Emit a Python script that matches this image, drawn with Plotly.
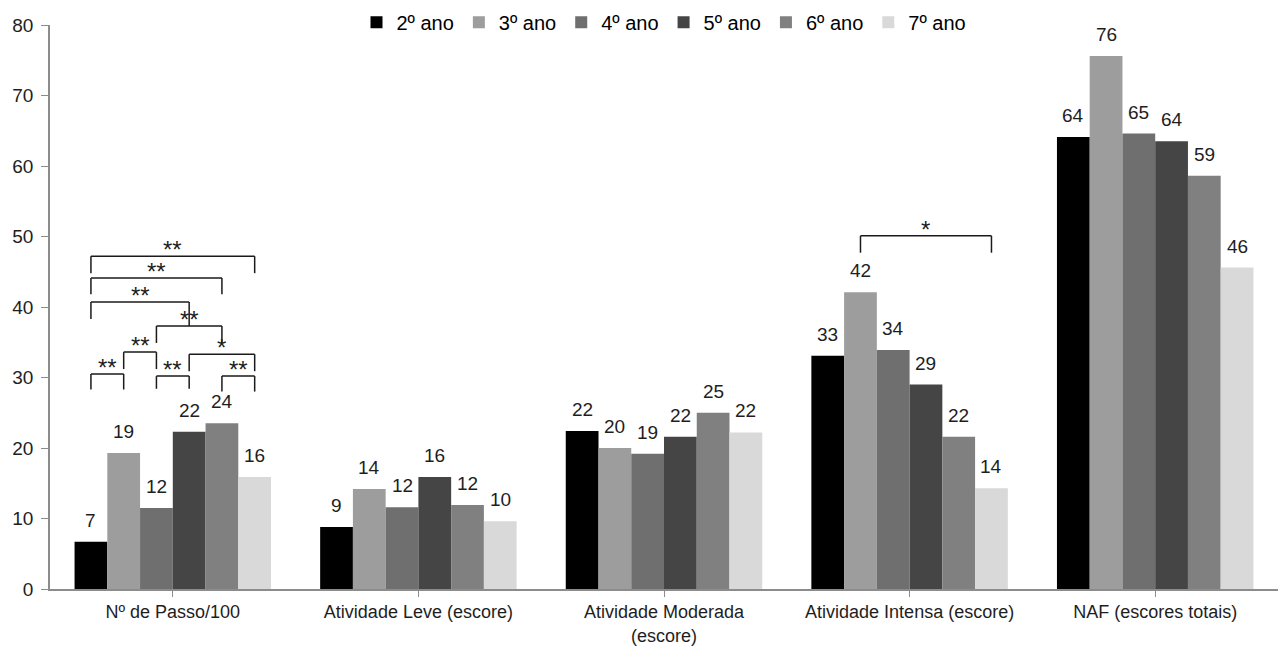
import plotly.graph_objects as go

categories = ["Nº de Passo/100", "Atividade Leve (escore)", "Atividade Moderada<br>(escore)",
              "Atividade Intensa (escore)", "NAF (escores totais)"]
series_names = ["2º ano", "3º ano", "4º ano", "5º ano", "6º ano", "7º ano"]

ano2 = [6.7, 8.8, 22.4, 33.1, 64.1]
ano3 = [19.3, 14.2, 20.0, 42.1, 75.6]
ano4 = [11.5, 11.6, 19.2, 33.9, 64.6]
ano5 = [22.3, 15.9, 21.6, 29.0, 63.5]
ano6 = [23.5, 11.9, 25.0, 21.6, 58.6]
ano7 = [15.9, 9.6, 22.2, 14.3, 45.6]

lab2 = [7, 9, 22, 33, 64]
lab3 = [19, 14, 20, 42, 76]
lab4 = [12, 12, 19, 34, 65]
lab5 = [22, 16, 22, 29, 64]
lab6 = [24, 12, 25, 22, 59]
lab7 = [16, 10, 22, 14, 46]

values = [ano2, ano3, ano4, ano5, ano6, ano7]
labels = [lab2, lab3, lab4, lab5, lab6, lab7]
colors = ["#000000", "#9d9d9d", "#6f6f6f", "#454545", "#808080", "#d9d9d9"]

y_ticks = [0, 10, 20, 30, 40, 50, 60, 70, 80]

FONT = "Liberation Sans, Arial, sans-serif"
TXT = "#1e1e1e"
BARGAP = 0.2
n = len(series_names)
w = (1 - BARGAP) / n


def xpos(cat, s):
    return cat + (s - (n - 1) / 2) * w


fig = go.Figure()
for s in range(n):
    fig.add_trace(go.Bar(
        x=list(range(len(categories))), y=values[s], name=series_names[s],
        marker=dict(color=colors[s], line=dict(width=0)),
    ))

annotations = []
for s in range(n):
    for c in range(len(categories)):
        annotations.append(dict(
            x=xpos(c, s), y=values[s][c], xref="x", yref="y",
            text=str(labels[s][c]), showarrow=False, yanchor="bottom",
            yshift=9, font=dict(family=FONT, size=19, color=TXT)))

# significance brackets: (category, from series, to series, top, left leg, right leg, text)
brackets = [
    (0, 0, 5, 47.2, 44.8, 44.8, "**"),
    (0, 0, 4, 44.1, 41.8, 41.8, "**"),
    (0, 0, 3, 40.7, 38.3, 37.3, "**"),
    (0, 2, 4, 37.3, 34.9, 34.9, "**"),
    (0, 1, 2, 33.6, 31.2, 31.2, "**"),
    (0, 3, 5, 33.3, 30.9, 30.9, "*"),
    (0, 0, 1, 30.5, 28.3, 28.3, "**"),
    (0, 2, 3, 30.2, 28.4, 28.4, "**"),
    (0, 4, 5, 30.2, 28.0, 28.0, "**"),
    (3, 1, 5, 50.1, 47.7, 47.7, "*"),
]
shapes = []
line = dict(color="#1a1a1a", width=1.5)
for c, a, b, top, ll, rl, t in brackets:
    x1, x2 = xpos(c, a), xpos(c, b)
    shapes.append(dict(type="line", xref="x", yref="y", x0=x1, x1=x1, y0=ll, y1=top, line=line))
    shapes.append(dict(type="line", xref="x", yref="y", x0=x1, x1=x2, y0=top, y1=top, line=line))
    shapes.append(dict(type="line", xref="x", yref="y", x0=x2, x1=x2, y0=top, y1=rl, line=line))
    annotations.append(dict(
        x=(x1 + x2) / 2, y=top, xref="x", yref="y", text=t, showarrow=False,
        yanchor="bottom", yshift=-9, font=dict(family=FONT, size=24, color=TXT)))

# page body adds an 8px offset, so the figure is sized to fill the rest of the window
fig.update_layout(
    barmode="group", bargap=BARGAP, bargroupgap=0,
    width=1280, height=638,
    margin=dict(l=42, r=10, t=17, b=57, autoexpand=False),
    paper_bgcolor="white", plot_bgcolor="white",
    font=dict(family=FONT, size=19, color=TXT),
    showlegend=True,
    legend=dict(orientation="h", x=0.5, xanchor="center", y=1.005, yanchor="middle",
                font=dict(family=FONT, size=20, color="#000000"),
                bgcolor="rgba(0,0,0,0)", traceorder="normal", itemwidth=30),
    annotations=annotations, shapes=shapes,
)
fig.update_xaxes(
    tickmode="array", tickvals=list(range(len(categories))), ticktext=categories,
    tickson="boundaries", ticks="outside", ticklen=6, tickcolor="#8c8c8c",
    showline=True, linecolor="#8c8c8c", linewidth=1.5, showgrid=False,
    range=[-0.5, len(categories) - 0.5], automargin=False,
    tickfont=dict(family=FONT, size=18, color=TXT),
)
fig.update_yaxes(
    range=[0, 80], tickmode="array", tickvals=y_ticks, ticks="outside", ticklen=7,
    tickcolor="#8c8c8c", showline=True, linecolor="#8c8c8c", linewidth=1.5,
    showgrid=False, zeroline=False, automargin=False, ticklabelstandoff=4,
    tickfont=dict(family=FONT, size=19, color=TXT),
)

fig.write_html("out.html")
